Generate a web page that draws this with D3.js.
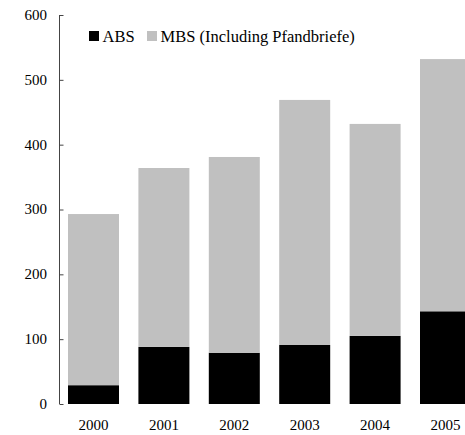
<!DOCTYPE html>
<html>
<head>
<meta charset="utf-8">
<script src="https://cdn.jsdelivr.net/npm/d3@7"></script>
<style>
  html, body { margin: 0; padding: 0; background: #fff; }
  svg { display: block; }
</style>
</head>
<body>
<svg id="chart" width="465" height="435"></svg>
<script>
const years = ["2000", "2001", "2002", "2003", "2004", "2005"];
const absValues = [29, 88, 79, 91, 105, 143];
const mbsValues = [264, 276, 302, 378, 327, 389];
const seriesNames = ["ABS", "MBS (Including Pfandbriefe)"];
const seriesColors = ["#000000", "#c0c0c0"];
const yTicks = [0, 100, 200, 300, 400, 500, 600];

const svg = d3.select("#chart");
const fontFamily = "'Liberation Serif', 'Times New Roman', serif";
const tickFont = "15px";
const legendFont = "16.5px";

const y = d3.scaleLinear().domain([0, 600]).range([404, 15]);
const x = d3.scaleBand().domain(years)
  .range([58.3, 58.3 + 6 * 70.4])
  .paddingInner(0.2756).paddingOuter(0.1378);

const rows = years.map((yr, i) => ({ year: yr, ABS: absValues[i], MBS: mbsValues[i] }));
const stack = d3.stack().keys(["ABS", "MBS"]);
const layers = stack(rows);

svg.append("g").selectAll("g").data(layers).join("g")
  .attr("fill", (d, i) => seriesColors[i])
  .selectAll("rect").data(d => d).join("rect")
  .attr("x", d => x(d.data.year))
  .attr("width", x.bandwidth())
  .attr("y", d => y(d[1]))
  .attr("height", d => y(d[0]) - y(d[1]));

// Y axis
const yAxis = d3.axisRight(y).tickValues(yTicks).tickSize(4).tickFormat("");
const gy = svg.append("g").attr("transform", "translate(59.5,0)").call(yAxis);
gy.selectAll("path, line").attr("stroke", "#444").attr("stroke-width", 1);
gy.select(".domain").attr("d", `M0,${y(0)}V${y(600)}`);

svg.append("g").selectAll("text").data(yTicks).join("text")
  .attr("x", 47).attr("y", d => y(d)).attr("dy", "0.33em")
  .attr("text-anchor", "end")
  .attr("font-family", fontFamily).attr("font-size", tickFont)
  .text(d => d);

// X labels
svg.append("g").selectAll("text").data(years).join("text")
  .attr("x", d => x(d) + x.bandwidth() / 2).attr("y", 430)
  .attr("text-anchor", "middle")
  .attr("font-family", fontFamily).attr("font-size", tickFont)
  .text(d => d);

// Legend
const legendPos = [89, 147];
const lg = svg.append("g");
seriesNames.forEach((name, i) => {
  lg.append("rect").attr("x", legendPos[i]).attr("y", 31).attr("width", 10).attr("height", 10)
    .attr("fill", seriesColors[i]);
  lg.append("text").attr("x", legendPos[i] + 13.5).attr("y", 41.5)
    .attr("font-family", fontFamily).attr("font-size", legendFont)
    .text(name);
});
</script>
</body>
</html>
